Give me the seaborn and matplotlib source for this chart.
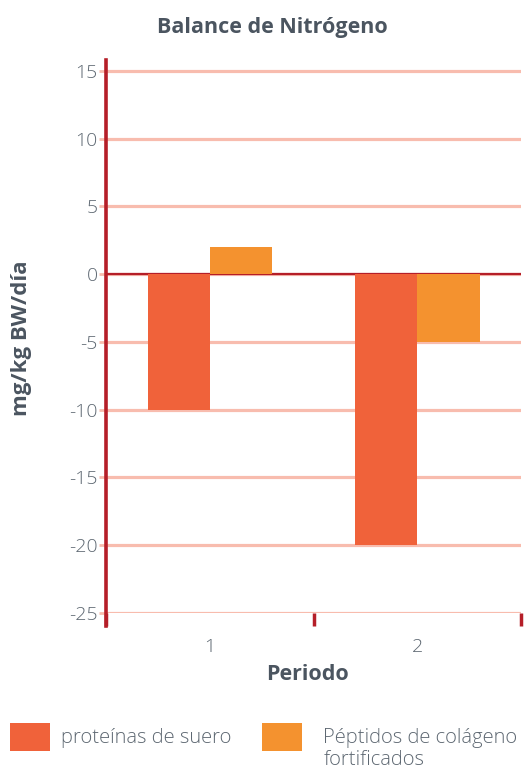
import matplotlib
matplotlib.use("Agg")
import matplotlib.pyplot as plt
from matplotlib.patches import Patch
from matplotlib.ticker import FixedLocator
import seaborn as sns
import pandas as pd

# Data
periodos = ["1", "2"]
proteinas_suero = [-10, -20]
peptidos_colageno = [2, -5]
serie_nombres = ["proteínas de suero", "Péptidos de colágeno\nfortificados"]
y_ticks = [15, 10, 5, 0, -5, -10, -15, -20, -25]

df = pd.DataFrame({
    "Periodo": periodos * 2,
    "valor": proteinas_suero + peptidos_colageno,
    "serie": [serie_nombres[0]] * len(periodos) + [serie_nombres[1]] * len(periodos),
})

ROJO = "#F0623A"
NARANJA = "#F4922F"
ROSA = "#F8BCAE"
GRANATE = "#B51E28"
GRIS = "#5E6872"
GRIS_OSC = "#4B5560"

sns.set_theme(style="white")
plt.rcParams["font.family"] = ["Open Sans", "DejaVu Sans"]

fig = plt.figure(figsize=(5.31, 7.71), dpi=100)
ax = fig.add_axes([106 / 531, 1 - 613 / 771, (521 - 106) / 531, (613 - 60) / 771])

for v in y_ticks:
    ax.axhline(v, color=ROSA, lw=2.3, zorder=0)

sns.barplot(data=df, x="Periodo", y="valor", hue="serie",
            palette=[ROJO, NARANJA], width=0.6, saturation=1,
            linewidth=0, gap=0, ax=ax, zorder=2, legend=False)

ax.axhline(0, color=GRANATE, lw=1.6, zorder=1)

ax.set_xlim(-0.5, 1.5)
ax.set_ylim(-25, 15.8)
ax.set_yticks(y_ticks)
ax.set_yticklabels([str(v) for v in y_ticks], fontsize=14, color=GRIS, fontweight="light")
ax.tick_params(axis="y", left=True, length=5, width=2, color=ROSA, pad=1)

ax.set_xticks([0, 1])
ax.set_xticklabels(periodos, fontsize=14, color=GRIS, fontweight="light")
ax.xaxis.set_minor_locator(FixedLocator([-0.5, 0.5, 1.5]))
ax.tick_params(axis="x", which="major", length=0, pad=18)
ax.tick_params(axis="x", which="minor", bottom=True, length=9, width=2.5,
               color=GRANATE, direction="out")

for s in ["top", "right", "bottom"]:
    ax.spines[s].set_visible(False)
ax.spines["left"].set_color(GRANATE)
ax.spines["left"].set_linewidth(2.6)
ax.spines["left"].set_bounds(-25.95, 15.8)
ax.spines["left"].set_zorder(3)

ax.set_xlabel("")
ax.set_ylabel("")
fig.text(308 / 531, 1 - 675 / 771, "Periodo", ha="center", va="center",
         fontsize=15.5, fontweight="bold", color=GRIS_OSC)
fig.text(22 / 531, 1 - 338 / 771, "mg/kg BW/día", rotation=90, ha="center", va="center",
         fontsize=16, fontweight="bold", color=GRIS_OSC)
fig.text(272 / 531, 1 - 28 / 771, "Balance de Nitrógeno", ha="center", va="center",
         fontsize=15.5, fontweight="bold", color=GRIS_OSC)

# Legend: one block per series
leg_kw = dict(loc="upper left", frameon=False, borderpad=0, borderaxespad=0,
              handlelength=2.0, handleheight=1.75, fontsize=14.5, labelcolor=GRIS)
leg1 = fig.legend([Patch(facecolor=ROJO, edgecolor="none")], [serie_nombres[0]],
                  bbox_to_anchor=(10 / 531, 1 - 723 / 771), handletextpad=0.55, **leg_kw)
first_line, rest = serie_nombres[1].split("\n")
leg2 = fig.legend([Patch(facecolor=NARANJA, edgecolor="none")], [first_line],
                  bbox_to_anchor=(262 / 531, 1 - 723 / 771), handletextpad=1.05, **leg_kw)
for lg in (leg1, leg2):
    for t in lg.get_texts():
        t.set_fontweight("light")

fig.canvas.draw()
r = fig.canvas.get_renderer()
bb = leg2.get_texts()[0].get_window_extent(r)
fig.text(bb.x0 / fig.bbox.width, (bb.y0 - 2) / fig.bbox.height, rest,
         ha="left", va="top", fontsize=14.5, color=GRIS, fontweight="light")

fig.savefig("out.png", dpi=100)
